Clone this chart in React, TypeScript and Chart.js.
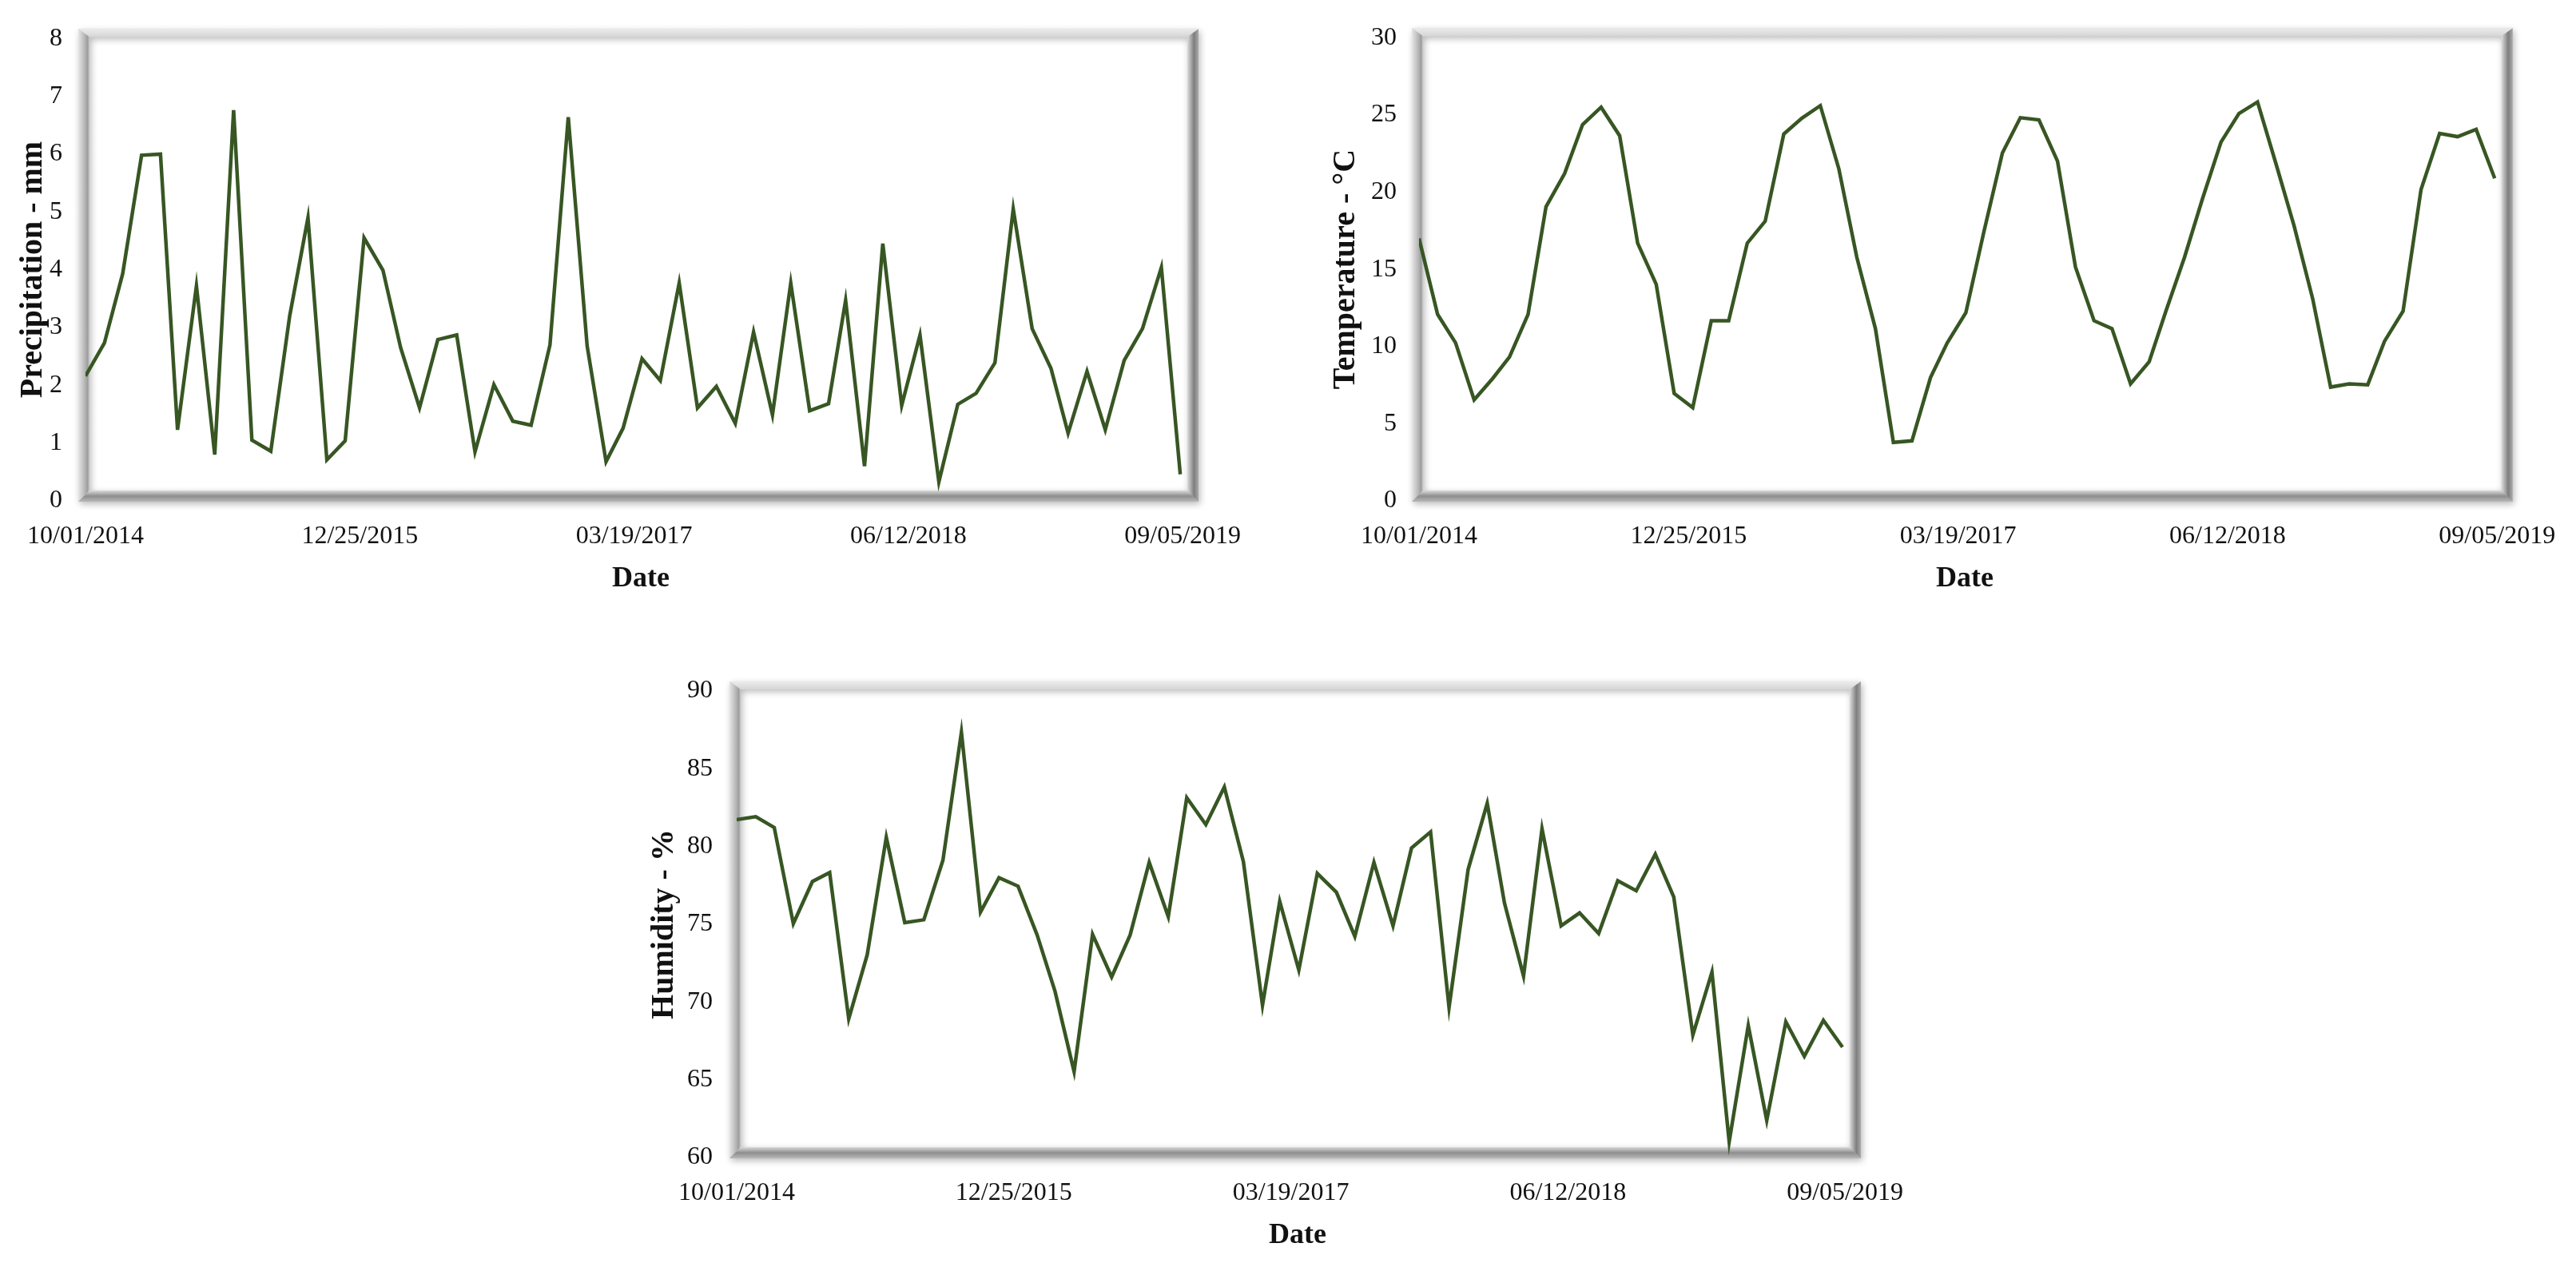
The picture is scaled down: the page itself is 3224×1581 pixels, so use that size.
import React, { useEffect, useRef } from 'react';
import { Chart, registerables } from 'chart.js';

Chart.register(...registerables);

const dates = [
  '2014-10-01', '2014-11-01', '2014-12-01', '2015-01-01', '2015-02-01', '2015-03-01',
  '2015-04-01', '2015-05-01', '2015-06-01', '2015-07-01', '2015-08-01', '2015-09-01',
  '2015-10-01', '2015-11-01', '2015-12-01', '2016-01-01', '2016-02-01', '2016-03-01',
  '2016-04-01', '2016-05-01', '2016-06-01', '2016-07-01', '2016-08-01', '2016-09-01',
  '2016-10-01', '2016-11-01', '2016-12-01', '2017-01-01', '2017-02-01', '2017-03-01',
  '2017-04-01', '2017-05-01', '2017-06-01', '2017-07-01', '2017-08-01', '2017-09-01',
  '2017-10-01', '2017-11-01', '2017-12-01', '2018-01-01', '2018-02-01', '2018-03-01',
  '2018-04-01', '2018-05-01', '2018-06-01', '2018-07-01', '2018-08-01', '2018-09-01',
  '2018-10-01', '2018-11-01', '2018-12-01', '2019-01-01', '2019-02-01', '2019-03-01',
  '2019-04-01', '2019-05-01', '2019-06-01', '2019-07-01', '2019-08-01', '2019-09-01',
];

const precipitation = [
  2.16, 2.73, 3.93, 5.98, 6.0, 1.23, 3.72, 0.8, 6.76, 1.05,
  0.86, 3.2, 4.9, 0.71, 1.04, 4.55, 3.99, 2.65, 1.61, 2.79,
  2.87, 0.85, 2.01, 1.38, 1.31, 2.7, 6.64, 2.68, 0.68, 1.26,
  2.46, 2.08, 3.77, 1.61, 1.98, 1.34, 2.92, 1.49, 3.77, 1.56,
  1.68, 3.47, 0.6, 4.45, 1.65, 2.87, 0.33, 1.67, 1.86, 2.39,
  5.05, 2.98, 2.29, 1.17, 2.24, 1.23, 2.43, 2.98, 4.04, 0.46,
];

const temperature = [
  17.0, 12.08, 10.24, 6.55, 7.93, 9.32, 12.08, 19.05, 21.2, 24.37,
  25.5, 23.65, 16.69, 14.03, 6.96, 6.04, 11.67, 11.67, 16.69, 18.12,
  23.76, 24.78, 25.6, 21.5, 15.77, 11.16, 3.79, 3.89, 7.99, 10.24,
  12.19, 17.41, 22.53, 24.82, 24.68, 22.01, 15.15, 11.67, 11.16, 7.58,
  9.01, 12.29, 15.77, 19.56, 23.24, 25.09, 25.84, 21.81, 17.82, 13.11,
  7.37, 7.58, 7.52, 10.34, 12.29, 20.17, 23.8, 23.59, 24.06, 20.89,
];

const humidity = [
  81.73, 81.92, 81.22, 75.04, 77.75, 78.33, 68.92, 73.04, 80.59, 75.1,
  75.29, 79.12, 87.35, 75.78, 78.0, 77.45, 74.31, 70.69, 65.53, 74.35,
  71.61, 74.31, 78.98, 75.49, 83.14, 81.41, 83.82, 79.02, 69.8, 76.47,
  72.06, 78.27, 77.06, 74.22, 78.98, 74.9, 79.9, 80.94, 69.65, 78.53,
  82.78, 76.37, 71.67, 81.14, 74.9, 75.73, 74.41, 77.8, 77.16, 79.51,
  76.76, 67.88, 71.92, 61.02, 68.49, 62.39, 68.73, 66.51, 68.82, 67.1,
];

const xTickDays = [0, 450, 900, 1350, 1800];
const xTickLabels = ['10/01/2014', '12/25/2015', '03/19/2017', '06/12/2018', '09/05/2019'];
const xAxisMaxDays = 1822;

const LINE_COLOR = '#375623';
const FONT_FAMILY = "'Liberation Serif', 'Times New Roman', serif";
const TEXT_COLOR = '#111111';

const dayOffset = (d: string) => (Date.parse(d) - Date.parse(dates[0])) / 86400000;

const bevelFrame = {
  id: 'bevelFrame',
  beforeDatasetsDraw(chart: any) {
    const { ctx, chartArea } = chart;
    const { left: L, top: T, right: R, bottom: B } = chartArea;
    const oL = L - 9, oT = T - 12, oR = R + 3, oB = B + 1;
    const iL = L + 5, iT = T - 2, iR = R - 11, iB = B - 13;
    ctx.save();
    ctx.beginPath();
    ctx.rect(oL, oT, oR - oL, oB - oT);
    ctx.rect(iL, iT, iR - iL, iB - iT);
    ctx.shadowColor = 'rgba(0,0,0,0.28)';
    ctx.shadowBlur = 9;
    ctx.shadowOffsetX = 2;
    ctx.shadowOffsetY = 3;
    ctx.fillStyle = '#cfcfcf';
    ctx.fill('evenodd');
    ctx.shadowColor = 'transparent';
    ctx.shadowBlur = 0;
    ctx.shadowOffsetX = 0;
    ctx.shadowOffsetY = 0;

    const poly = (pts: number[][], grad: CanvasGradient) => {
      ctx.beginPath();
      ctx.moveTo(pts[0][0], pts[0][1]);
      for (let i = 1; i < pts.length; i++) ctx.lineTo(pts[i][0], pts[i][1]);
      ctx.closePath();
      ctx.fillStyle = grad;
      ctx.fill();
    };

    let g = ctx.createLinearGradient(0, oT, 0, iT);
    g.addColorStop(0, '#ececec');
    g.addColorStop(1, '#d5d5d5');
    poly([[oL, oT], [oR, oT], [iR, iT], [iL, iT]], g);

    g = ctx.createLinearGradient(oL, 0, iL, 0);
    g.addColorStop(0, '#e6e6e6');
    g.addColorStop(0.5, '#bdbdbd');
    g.addColorStop(0.85, '#9c9c9c');
    g.addColorStop(1, '#d0d0d0');
    poly([[oL, oT], [iL, iT], [iL, iB], [oL, oB]], g);

    g = ctx.createLinearGradient(0, iB, 0, oB);
    g.addColorStop(0, '#dadada');
    g.addColorStop(0.5, '#8e8e8e');
    g.addColorStop(1, '#b8b8b8');
    poly([[oL, oB], [iL, iB], [iR, iB], [oR, oB]], g);

    g = ctx.createLinearGradient(iR, 0, oR, 0);
    g.addColorStop(0, '#dcdcdc');
    g.addColorStop(0.6, '#7e7e7e');
    g.addColorStop(1, '#aaaaaa');
    poly([[iR, iT], [oR, oT], [oR, oB], [iR, iB]], g);

    ctx.restore();
  },
};

type PanelProps = {
  values: number[];
  yTitle: string;
  yMin: number;
  yMax: number;
  yStep: number;
  box: { left: number; top: number; width: number; height: number };
  pad: { left: number; top: number; right: number; bottom: number };
  yAxisWidth: number;
  yTickPadding: number;
  xAxisHeight: number;
};

function LinePanel(props: PanelProps) {
  const ref = useRef<HTMLCanvasElement | null>(null);
  useEffect(() => {
    if (!ref.current) return;
    const points = props.values.map((v, i) => ({ x: dayOffset(dates[i]), y: v }));
    const chart = new Chart(ref.current, {
      type: 'line',
      data: {
        datasets: [
          {
            data: points,
            borderColor: LINE_COLOR,
            borderWidth: 4.5,
            pointRadius: 0,
            tension: 0,
            fill: false,
          },
        ],
      },
      options: {
        animation: false,
        responsive: true,
        maintainAspectRatio: false,
        layout: { padding: props.pad },
        plugins: { legend: { display: false }, tooltip: { enabled: false } },
        scales: {
          x: {
            type: 'linear',
            min: 0,
            max: xAxisMaxDays,
            grid: { display: false, drawTicks: false },
            border: { display: false },
            afterBuildTicks: (s: any) => {
              s.ticks = xTickDays.map((v) => ({ value: v }));
            },
            afterFit: (s: any) => {
              s.height = props.xAxisHeight;
            },
            ticks: {
              autoSkip: false,
              maxRotation: 0,
              padding: 25,
              color: TEXT_COLOR,
              font: { family: FONT_FAMILY, size: 32 },
              callback: (v: any) => {
                const i = xTickDays.indexOf(Number(v));
                return i >= 0 ? xTickLabels[i] : '';
              },
            },
            title: {
              display: true,
              text: 'Date',
              color: TEXT_COLOR,
              padding: 0,
              font: { family: FONT_FAMILY, size: 36, weight: 'bold' },
            },
          },
          y: {
            min: props.yMin,
            max: props.yMax,
            grid: { display: false, drawTicks: false },
            border: { display: false },
            afterFit: (s: any) => {
              s.width = props.yAxisWidth;
            },
            ticks: {
              stepSize: props.yStep,
              padding: props.yTickPadding,
              color: TEXT_COLOR,
              font: { family: FONT_FAMILY, size: 32 },
            },
            title: {
              display: true,
              text: props.yTitle,
              color: TEXT_COLOR,
              padding: 0,
              font: { family: FONT_FAMILY, size: 40, weight: 'bold' },
            },
          },
        },
      },
      plugins: [bevelFrame],
    } as any);
    return () => chart.destroy();
  }, []);
  const b = props.box;
  return (
    <div style={{ position: 'absolute', left: b.left, top: b.top, width: b.width, height: b.height }}>
      <canvas ref={ref} />
    </div>
  );
}

export default function App() {
  return (
    <div style={{ position: 'absolute', left: 0, top: 0, width: 3224, height: 1581, background: '#ffffff', overflow: 'hidden' }}>
      <LinePanel
        values={precipitation}
        yTitle="Precipitation - mm"
        yMin={0}
        yMax={8}
        yStep={1}
        box={{ left: 0, top: 0, width: 1600, height: 760 }}
        pad={{ left: 18, top: 46, right: 103, bottom: 13.4 }}
        yAxisWidth={89}
        yTickPadding={29}
        xAxisHeight={119.6}
      />
      <LinePanel
        values={temperature}
        yTitle="Temperature - °C"
        yMin={0}
        yMax={30}
        yStep={5}
        box={{ left: 1620, top: 0, width: 1604, height: 760 }}
        pad={{ left: 41, top: 46, right: 71, bottom: 13.4 }}
        yAxisWidth={115}
        yTickPadding={28}
        xAxisHeight={119.6}
      />
      <LinePanel
        values={humidity}
        yTitle="Humidity - %"
        yMin={60}
        yMax={90}
        yStep={5}
        box={{ left: 780, top: 800, width: 1640, height: 781 }}
        pad={{ left: 28, top: 65, right: 94, bottom: 12.4 }}
        yAxisWidth={114}
        yTickPadding={30}
        xAxisHeight={119.6}
      />
    </div>
  );
}
